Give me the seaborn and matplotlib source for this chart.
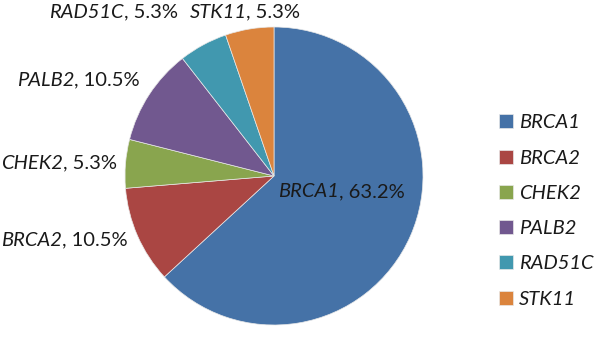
import matplotlib

matplotlib.use("Agg")
import matplotlib.pyplot as plt
import seaborn as sns
from matplotlib.offsetbox import AnnotationBbox, HPacker, TextArea

GENES = ["BRCA1", "BRCA2", "CHEK2", "PALB2", "RAD51C", "STK11"]
CARRIERS = [12, 2, 1, 2, 1, 1]
PERCENT_LABELS = ["63.2%", "10.5%", "5.3%", "10.5%", "5.3%", "5.3%"]
COLORS = ["#4572A7", "#AA4643", "#89A54E", "#71588F", "#4198AF", "#DB843D"]

# where each data label sits (pie data units) and how its box is anchored there
LABEL_ANCHORS = [
    ((0.45, -0.107), (0.5, 0.5)),
    ((-0.98, -0.43), (1.0, 0.5)),
    ((-1.054, 0.087), (1.0, 0.5)),
    ((-0.90, 0.644), (1.0, 0.5)),
    ((-0.644, 1.10), (1.0, 0.5)),
    ((-0.195, 1.10), (0.5, 0.5)),
]

sns.set_style("white")
plt.rcParams["font.family"] = ["Lato", "DejaVu Sans"]
FONT_SIZE = 14.5
TEXT_COLOR = "#1a1a1a"

fig = plt.figure(figsize=(5.96, 3.37), dpi=100)
ax = fig.add_axes([125 / 596, 12 / 337, 298 / 596, 298 / 337])

wedges, _ = ax.pie(
    CARRIERS,
    colors=sns.color_palette(COLORS),
    startangle=90,
    counterclock=False,
    radius=1,
    wedgeprops={"linewidth": 0.5, "edgecolor": "#e8e8e8"},
)
ax.set_xlim(-1, 1)
ax.set_ylim(-1, 1)
ax.set_aspect("equal")
ax.axis("off")

for gene, pct, (xy, align) in zip(GENES, PERCENT_LABELS, LABEL_ANCHORS):
    name = TextArea(gene, textprops={"fontsize": FONT_SIZE, "style": "italic", "color": TEXT_COLOR})
    rest = TextArea(f", {pct}", textprops={"fontsize": FONT_SIZE, "color": TEXT_COLOR})
    box = HPacker(children=[name, rest], pad=0, sep=0, align="baseline")
    ab = AnnotationBbox(
        box, xy, xycoords="data", box_alignment=align,
        frameon=False, pad=0, annotation_clip=False,
    )
    ax.add_artist(ab)

fig.legend(
    wedges,
    GENES,
    loc="center left",
    bbox_to_anchor=(481 / 596, 1 - 211 / 337),
    frameon=False,
    prop={"size": FONT_SIZE, "style": "italic"},
    labelcolor=TEXT_COLOR,
    handlelength=0.7,
    handleheight=0.7,
    handletextpad=0.3,
    labelspacing=0.9,
)

fig.savefig("out.png", dpi=100)
